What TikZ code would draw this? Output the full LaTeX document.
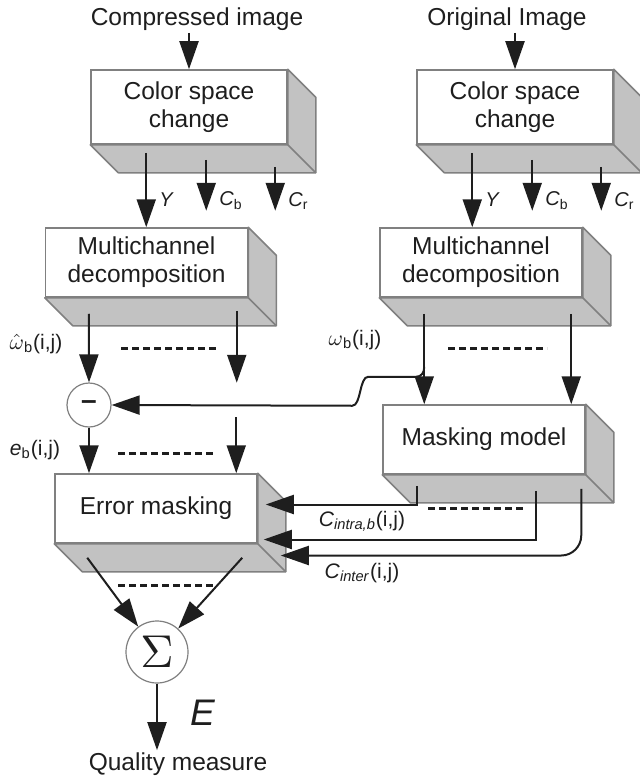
\documentclass[tikz,border=0pt]{standalone}
\usepackage{fontspec}
\setmainfont{Liberation Sans}
\usepackage{graphicx}
\usetikzlibrary{arrows.meta,positioning}
\definecolor{edgegray}{HTML}{808080}
\definecolor{facegray}{HTML}{C2C2C2}
\definecolor{inkgray}{HTML}{1E1E1E}
\tikzset{
  block/.style={draw=edgegray, fill=white, line width=0.75pt, minimum width=101pt, minimum height=34.5pt,
                inner sep=0pt, align=center, text=inkgray, font=\fontsize{12.25}{14}\selectfont},
  face/.style={draw=edgegray, fill=facegray, line width=0.75pt, line join=round},
  flow/.style={-{Triangle[length=14pt,width=9.5pt]}, line width=1pt, draw=inkgray},
  opnode/.style={circle, draw=edgegray, fill=white, line width=0.6pt, inner sep=0pt, text=inkgray},
  comp/.style={font=\fontsize{10}{11}\selectfont, text=inkgray, inner sep=1pt},
  idx/.style={font=\fontsize{10.5}{12}\selectfont, text=inkgray, inner sep=1pt},
  io/.style={font=\fontsize{12.25}{14}\selectfont, text=inkgray, inner sep=1pt},
  ellip/.style={line width=1.5pt, draw=inkgray, dash pattern=on 3.5pt off 2pt}
}
% grey side and bottom faces behind a block
\newcommand{\boxdepth}[1]{%
  \draw[face] (#1.north east) -- ([shift={(28,28)}]#1.north east) -- ([shift={(28,28)}]#1.south east)
    -- ([shift={(28,28)}]#1.south west) -- (#1.south west) -- (#1.south east) -- cycle;
  \draw[face] (#1.south east) -- ([shift={(28,28)}]#1.south east);}

\begin{document}
\begin{tikzpicture}[x=0.5pt, y=-0.5pt]
\useasboundingbox (0,0) rectangle (639,781);

% blocks
\node[io] (src1) at (197,19) {Compressed image};
\node[io] (src2) at (507,19) {Original Image};
\node[block, minimum width=98pt, minimum height=37pt] (csc1) at (189,107) {Color space\\change};
\node[block, minimum width=98pt, minimum height=37pt] (csc2) at (515,107) {Color space\\change};
\node[block] (dec1) at (146.5,262.5) {Multichannel\\decomposition};
\node[block] (dec2) at (481,262.5) {Multichannel\\decomposition};
\node[block] (mask) at (484,439.5) {Masking model};
\node[block] (err) at (156,508.5) {Error masking};
\node[opnode, minimum size=22pt] (sub) at (89,405) {\fontsize{14}{14}\selectfont\bfseries --};
\node[opnode, minimum size=31pt] (sum) at (157,652) {\scalebox{2.3}{$\Sigma$}};
\node[io] (qm) at (178,764) {Quality measure};
\foreach \blk in {csc1,csc2,dec1,dec2,mask,err} {\boxdepth{\blk}}

% colour components
\draw[flow] (src1.south -| csc1.north) -- (csc1.north);
\draw[flow] (src2.south -| csc2.north) -- (csc2.north);
\foreach \s in {1,2} {
  \coordinate (y\s) at ([shift={(56,8)}]csc\s.south west);
  \draw[flow] (y\s) -- (y\s |- dec\s.north) node[comp, pos=0.63, right=5pt] {\textit{Y}};
  \draw[flow] ([shift={(116,15)}]csc\s.south west) -- ++(0,51) node[comp, pos=0.8, right=5pt] {\textit{C}\textsubscript{b}};
  \draw[flow] ([shift={(185,22)}]csc\s.south west) -- ++(0,44) node[comp, pos=0.77, right=5pt] {\textit{C}\textsubscript{r}};
}

% subbands
\coordinate (wh) at ([shift={(44,16)}]dec1.south west);
\coordinate (v1) at ([shift={(192,13)}]dec1.south west);
\draw[flow] (wh) -- (sub.north);
\draw[flow] (v1) -- ++(0,72);
\draw[ellip] (121,348) -- (218,348);
\node[idx] (whlbl) at (36,344) {$\hat{\omega}$\textsubscript{b}(i,j)};

\coordinate (w2) at ([shift={(45,16)}]dec2.south west);
\coordinate (v2) at ([shift={(192,16)}]dec2.south west);
\draw[flow] (w2) -- (w2 |- mask.north);
\draw[flow] (v2) -- (v2 |- mask.north);
\draw[ellip] (448,348) -- (547,348);
\node[idx] (wlbl) at (355,340) {$\omega$\textsubscript{b}(i,j)};

\coordinate (tap) at ([shift={(0,53)}]w2);
\draw[flow] (tap) .. controls +(0,6) and +(5,0) .. ++(-8,10) -- ++(-48,0)
  .. controls +(-9,0) and +(9,0) .. ++(-16,29) -- (sub.east);

% error signal
\coordinate (v3) at ([shift={(182,-56)}]err.north west);
\draw[flow] (sub) -- (sub |- err.north);
\draw[flow] (v3) -- (v3 |- err.north);
\draw[ellip] (118,453) -- (213,453);
\node[idx] (elbl) at (35,450) {\textit{e}\textsubscript{b}(i,j)};

% masking thresholds
\coordinate (m1) at ([shift={(35,11)}]mask.south west);
\coordinate (m2) at ([shift={(154,16)}]mask.south west);
\coordinate (m3) at ([shift={(199,14)}]mask.south west);
\draw[flow] (m1) |- ([shift={(8,-4)}]err.east);
\draw[flow] (m2) |- ([shift={(6,31)}]err.east);
\draw[flow, rounded corners=10pt] (m3) |- ([shift={(23,47)}]err.east);
\draw[ellip] (428,508) -- (525,508);
\node[idx] (cintra) at (362,521) {\textit{C}\textsubscript{\textit{intra,b}}(i,j)};
\node[idx] (cinter) at (362,573) {\textit{C}\textsubscript{\textit{inter}}(i,j)};

% pooling
\draw[flow] ([shift={(33,14)}]err.south west) -- (sum);
\draw[flow] ([shift={(188,14)}]err.south west) -- (sum);
\draw[ellip] (118,585) -- (213,585);
\draw[flow] (sum) -- (sum |- qm.north);
\node[font=\fontsize{18.5}{20}\selectfont\itshape, text=inkgray] (elabel) at (203,713) {E};
\end{tikzpicture}
\end{document}
